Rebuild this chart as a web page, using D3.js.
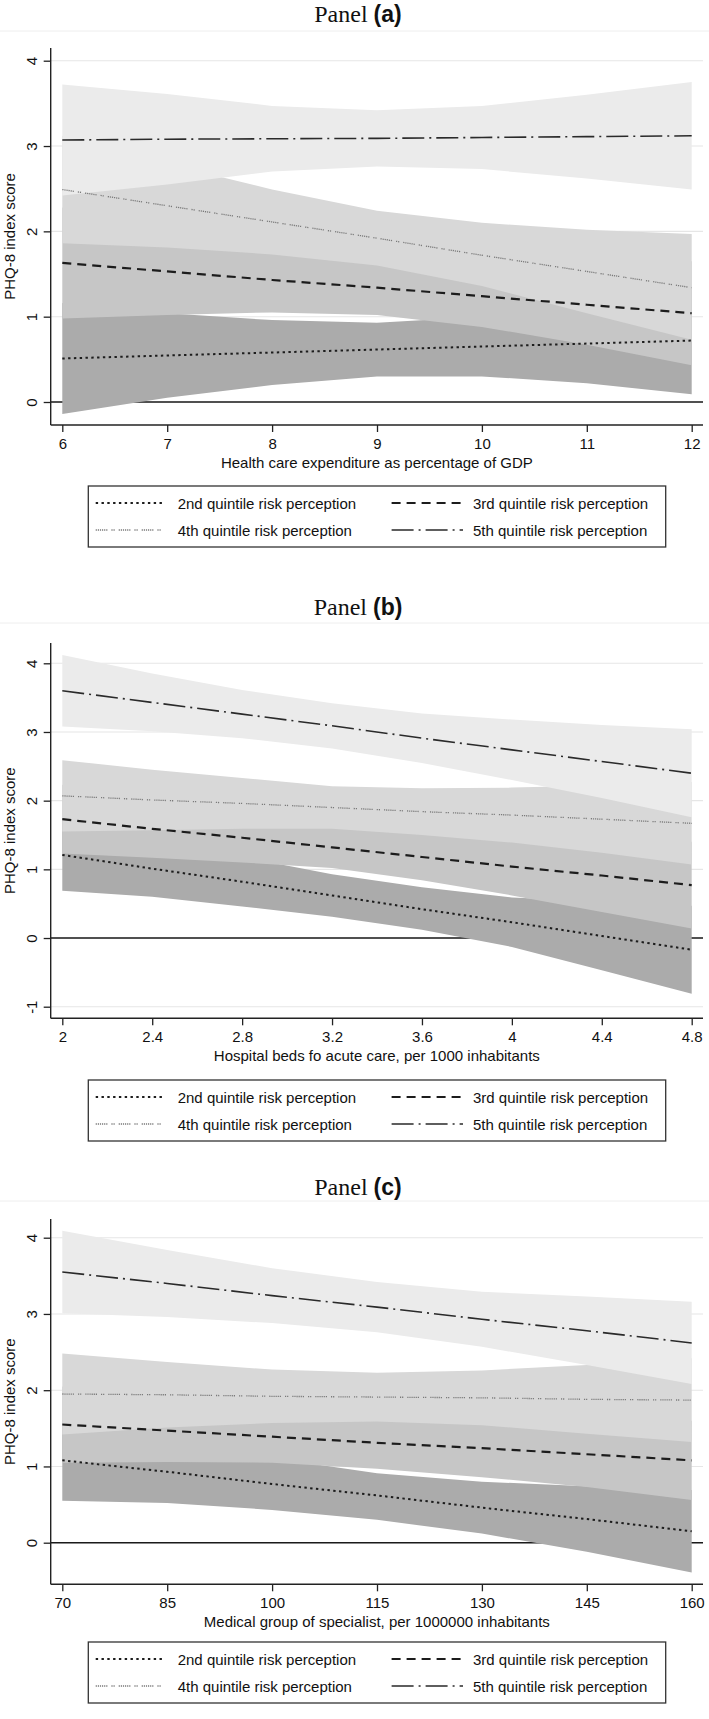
<!DOCTYPE html>
<html>
<head>
<meta charset="utf-8">
<script src="https://cdn.jsdelivr.net/npm/d3@7"></script>
<style>
  html, body { margin: 0; padding: 0; background: #ffffff; }
  svg { display: block; }
</style>
</head>
<body>
<div id="chart"></div>
<script>
// ---------------- DATA ----------------
const seriesNames = ["2nd quintile risk perception", "3rd quintile risk perception",
                     "4th quintile risk perception", "5th quintile risk perception"];

// Panel (a)
const xA = [6, 7, 8, 9, 10, 11, 12];
const xTicksA = [6, 7, 8, 9, 10, 11, 12];
const yTicksA = [0, 1, 2, 3, 4];
const a_q2_est = [0.51, 0.545, 0.58, 0.615, 0.65, 0.685, 0.72];
const a_q2_lo  = [-0.14, 0.05, 0.20, 0.30, 0.30, 0.22, 0.09];
const a_q2_hi  = [1.16, 1.04, 0.96, 0.93, 1.00, 1.15, 1.35];
const a_q3_est = [1.63, 1.53, 1.43, 1.34, 1.24, 1.14, 1.04];
const a_q3_lo  = [0.98, 1.02, 1.05, 1.02, 0.88, 0.67, 0.43];
const a_q3_hi  = [2.28, 2.04, 1.81, 1.66, 1.60, 1.61, 1.65];
const a_q4_est = [2.49, 2.30, 2.11, 1.92, 1.72, 1.53, 1.34];
const a_q4_lo  = [1.86, 1.81, 1.73, 1.60, 1.36, 1.04, 0.73];
const a_q4_hi  = [3.12, 2.79, 2.49, 2.24, 2.10, 2.02, 1.97];
const a_q5_est = [3.07, 3.08, 3.085, 3.09, 3.10, 3.11, 3.12];
const a_q5_lo  = [2.42, 2.55, 2.70, 2.76, 2.73, 2.62, 2.49];
const a_q5_hi  = [3.72, 3.61, 3.47, 3.42, 3.47, 3.60, 3.75];

// Panel (b)
const xB = [2, 2.4, 2.8, 3.2, 3.6, 4.0, 4.4, 4.8];
const xTicksB = [2, 2.4, 2.8, 3.2, 3.6, 4, 4.4, 4.8];
const yTicksB = [-1, 0, 1, 2, 3, 4];
const b_q2_est = [1.21, 1.01, 0.82, 0.62, 0.42, 0.23, 0.03, -0.17];
const b_q2_lo  = [0.69, 0.60, 0.46, 0.31, 0.12, -0.13, -0.47, -0.81];
const b_q2_hi  = [1.73, 1.42, 1.18, 0.93, 0.74, 0.59, 0.53, 0.47];
const b_q3_est = [1.73, 1.59, 1.46, 1.32, 1.18, 1.04, 0.91, 0.77];
const b_q3_lo  = [1.23, 1.17, 1.10, 1.02, 0.84, 0.62, 0.38, 0.14];
const b_q3_hi  = [2.23, 2.01, 1.82, 1.62, 1.52, 1.46, 1.44, 1.40];
const b_q4_est = [2.07, 2.01, 1.96, 1.90, 1.84, 1.79, 1.73, 1.67];
const b_q4_lo  = [1.55, 1.57, 1.59, 1.59, 1.50, 1.39, 1.24, 1.07];
const b_q4_hi  = [2.59, 2.45, 2.33, 2.21, 2.18, 2.19, 2.22, 2.27];
const b_q5_est = [3.60, 3.43, 3.26, 3.09, 2.91, 2.74, 2.57, 2.40];
const b_q5_lo  = [3.08, 3.01, 2.91, 2.76, 2.55, 2.30, 2.04, 1.76];
const b_q5_hi  = [4.12, 3.85, 3.61, 3.42, 3.27, 3.18, 3.10, 3.04];

// Panel (c)
const xC = [70, 85, 100, 115, 130, 145, 160];
const xTicksC = [70, 85, 100, 115, 130, 145, 160];
const yTicksC = [0, 1, 2, 3, 4];
const c_q2_est = [1.08, 0.93, 0.77, 0.62, 0.46, 0.31, 0.15];
const c_q2_lo  = [0.55, 0.52, 0.43, 0.30, 0.12, -0.12, -0.39];
const c_q2_hi  = [1.61, 1.34, 1.11, 0.91, 0.80, 0.74, 0.69];
const c_q3_est = [1.55, 1.47, 1.39, 1.31, 1.24, 1.16, 1.08];
const c_q3_lo  = [1.05, 1.06, 1.05, 0.97, 0.86, 0.73, 0.56];
const c_q3_hi  = [2.05, 1.88, 1.73, 1.65, 1.62, 1.59, 1.60];
const c_q4_est = [1.95, 1.94, 1.92, 1.91, 1.90, 1.88, 1.87];
const c_q4_lo  = [1.42, 1.51, 1.57, 1.59, 1.54, 1.43, 1.32];
const c_q4_hi  = [2.48, 2.37, 2.27, 2.23, 2.26, 2.33, 2.42];
const c_q5_est = [3.55, 3.40, 3.24, 3.09, 2.93, 2.78, 2.62];
const c_q5_lo  = [3.01, 2.96, 2.88, 2.76, 2.57, 2.33, 2.08];
const c_q5_hi  = [4.09, 3.84, 3.60, 3.42, 3.29, 3.23, 3.16];

const panelLetters = ["a", "b", "c"];
const xTitles = ["Health care expenditure as percentage of GDP",
                 "Hospital beds fo acute care, per 1000 inhabitants",
                 "Medical group of specialist, per 1000000 inhabitants"];
const yTitle = "PHQ-8 index score";

// ---------------- STYLE / LAYOUT ----------------
const W = 709, H = 1719;
const bandFill = ["#ababab", "#c6c6c6", "#d8d8d8", "#ebebeb"];
const lineStyle = [
  { stroke: "#1c1c1c", width: 2.0, dash: "2.4,3.4" },
  { stroke: "#1c1c1c", width: 2.2, dash: "9,6" },
  { stroke: "#7a7a7a", width: 1.3, dash: "1.2,0.9,1.2,0.9,1.2,0.9,1.2,0.9,1.2,0.9,1.2,4,1.2,0.9,1.2,4" },
  { stroke: "#2a2a2a", width: 1.6, dash: "22,5,2,5" }
];
const axisX = 50.7, plotRight = 703, xLeftTick = 62.3, xRightTick = 691.7;

const layouts = [
  { titleY: 22,   sepY: 31,   axisTop: 48,   yDom: [0, 4],  yRange: [402, 60.7],     xAxisY: 425,    legTop: 486 },
  { titleY: 615,  sepY: 623,  axisTop: 643,  yDom: [-1, 4], yRange: [1006.7, 663.3], xAxisY: 1018.3, legTop: 1080 },
  { titleY: 1195, sepY: 1201, axisTop: 1219, yDom: [0, 4],  yRange: [1542.7, 1237.7],xAxisY: 1584.3, legTop: 1642 }
];

const panelsData = [
  { x: xA, xt: xTicksA, yt: yTicksA,
    s: [[a_q2_est, a_q2_lo, a_q2_hi], [a_q3_est, a_q3_lo, a_q3_hi], [a_q4_est, a_q4_lo, a_q4_hi], [a_q5_est, a_q5_lo, a_q5_hi]] },
  { x: xB, xt: xTicksB, yt: yTicksB,
    s: [[b_q2_est, b_q2_lo, b_q2_hi], [b_q3_est, b_q3_lo, b_q3_hi], [b_q4_est, b_q4_lo, b_q4_hi], [b_q5_est, b_q5_lo, b_q5_hi]] },
  { x: xC, xt: xTicksC, yt: yTicksC,
    s: [[c_q2_est, c_q2_lo, c_q2_hi], [c_q3_est, c_q3_lo, c_q3_hi], [c_q4_est, c_q4_lo, c_q4_hi], [c_q5_est, c_q5_lo, c_q5_hi]] }
];

const SANS = "'Liberation Sans', Arial, Helvetica, sans-serif";
const SERIF = "'Liberation Serif', 'Times New Roman', serif";

const svg = d3.select("#chart").append("svg")
  .attr("width", W).attr("height", H).attr("viewBox", `0 0 ${W} ${H}`);
svg.append("rect").attr("width", W).attr("height", H).attr("fill", "#fff");

panelsData.forEach((pd, pi) => {
  const L = layouts[pi];
  const g = svg.append("g");
  const x = d3.scaleLinear().domain([d3.min(pd.xt), d3.max(pd.xt)]).range([xLeftTick, xRightTick]);
  const y = d3.scaleLinear().domain(L.yDom).range(L.yRange);

  // Title
  const t = g.append("text").attr("x", 358).attr("y", L.titleY)
    .attr("text-anchor", "middle").attr("font-size", 24).attr("fill", "#111");
  t.append("tspan").attr("font-family", SERIF).text("Panel ");
  t.append("tspan").attr("font-family", SANS).attr("font-weight", "bold").attr("font-size", 23)
    .text("(" + panelLetters[pi] + ")");

  // faint separator
  g.append("line").attr("x1", 0).attr("x2", W).attr("y1", L.sepY).attr("y2", L.sepY)
    .attr("stroke", "#eeeeee").attr("stroke-width", 1);

  // gridlines
  g.append("g").selectAll("line").data(pd.yt).join("line")
    .attr("x1", axisX).attr("x2", plotRight)
    .attr("y1", d => y(d)).attr("y2", d => y(d))
    .attr("stroke", "#e6e6e6").attr("stroke-width", 1.1);

  // zero reference line (under bands)
  g.append("line").attr("x1", axisX).attr("x2", plotRight)
    .attr("y1", y(0)).attr("y2", y(0))
    .attr("stroke", "#1a1a1a").attr("stroke-width", 1.6);

  // bands: 2nd first (bottom) ... 5th last (top)
  pd.s.forEach((ser, si) => {
    const rows = pd.x.map((xv, i) => ({ x: xv, lo: ser[1][i], hi: ser[2][i] }));
    const area = d3.area().x(d => x(d.x)).y0(d => y(d.lo)).y1(d => y(d.hi));
    g.append("path").datum(rows).attr("d", area).attr("fill", bandFill[si]).attr("stroke", "none");
  });

  // lines
  pd.s.forEach((ser, si) => {
    const rows = pd.x.map((xv, i) => ({ x: xv, v: ser[0][i] }));
    const line = d3.line().x(d => x(d.x)).y(d => y(d.v));
    const st = lineStyle[si];
    g.append("path").datum(rows).attr("d", line).attr("fill", "none")
      .attr("stroke", st.stroke).attr("stroke-width", st.width)
      .attr("stroke-dasharray", st.dash);
  });

  // Y axis
  const yAxis = d3.axisLeft(y).tickValues(pd.yt).tickSize(7).tickFormat(d => String(d));
  const yg = g.append("g").attr("transform", `translate(${axisX},0)`).call(yAxis);
  yg.select(".domain").remove();
  yg.selectAll(".tick line").attr("stroke", "#222").attr("stroke-width", 1.3);
  yg.selectAll(".tick text")
    .attr("x", 0).attr("dy", 0).attr("y", 0)
    .attr("transform", `translate(${36.5 - axisX},0) rotate(-90)`)
    .attr("text-anchor", "middle")
    .attr("font-family", SANS).attr("font-size", 15).attr("fill", "#111");
  g.append("line").attr("x1", axisX).attr("x2", axisX).attr("y1", L.axisTop).attr("y2", L.xAxisY)
    .attr("stroke", "#222").attr("stroke-width", 1.4);

  // Y title
  const yMid = (L.axisTop + L.xAxisY) / 2;
  g.append("text").attr("transform", `translate(15,${yMid}) rotate(-90)`)
    .attr("text-anchor", "middle").attr("font-family", SANS).attr("font-size", 15)
    .attr("fill", "#111").text(yTitle);

  // X axis
  const xAxis = d3.axisBottom(x).tickValues(pd.xt).tickSize(7).tickFormat(d => String(d));
  const xg = g.append("g").attr("transform", `translate(0,${L.xAxisY})`).call(xAxis);
  xg.select(".domain").remove();
  xg.selectAll(".tick line").attr("stroke", "#222").attr("stroke-width", 1.3);
  xg.selectAll(".tick text").attr("y", 23.5).attr("dy", 0)
    .attr("font-family", SANS).attr("font-size", 15).attr("fill", "#111");
  g.append("line").attr("x1", axisX).attr("x2", plotRight).attr("y1", L.xAxisY).attr("y2", L.xAxisY)
    .attr("stroke", "#222").attr("stroke-width", 1.4);

  // X title
  g.append("text").attr("x", (axisX + plotRight) / 2).attr("y", L.xAxisY + 43)
    .attr("text-anchor", "middle").attr("font-family", SANS).attr("font-size", 15)
    .attr("fill", "#111").text(xTitles[pi]);

  // Legend
  const lg = g.append("g");
  lg.append("rect").attr("x", 88.3).attr("y", L.legTop).attr("width", 577.4).attr("height", 61)
    .attr("fill", "#fff").attr("stroke", "#333").attr("stroke-width", 1.3);
  const slots = [
    { si: 0, col: 0, row: 0 }, { si: 1, col: 1, row: 0 },
    { si: 2, col: 0, row: 1 }, { si: 3, col: 1, row: 1 }
  ];
  const colX = [[95.7, 163, 177.7], [391.6, 463, 473]];
  slots.forEach(sl => {
    const cy = L.legTop + 17 + sl.row * 27;
    const st = lineStyle[sl.si];
    lg.append("line").attr("x1", colX[sl.col][0]).attr("x2", colX[sl.col][1])
      .attr("y1", cy).attr("y2", cy)
      .attr("stroke", st.stroke).attr("stroke-width", st.width).attr("stroke-dasharray", st.dash);
    lg.append("text").attr("x", colX[sl.col][2]).attr("y", cy + 5.5)
      .attr("font-family", SANS).attr("font-size", 15).attr("fill", "#111")
      .text(seriesNames[sl.si]);
  });
});
</script>
</body>
</html>
